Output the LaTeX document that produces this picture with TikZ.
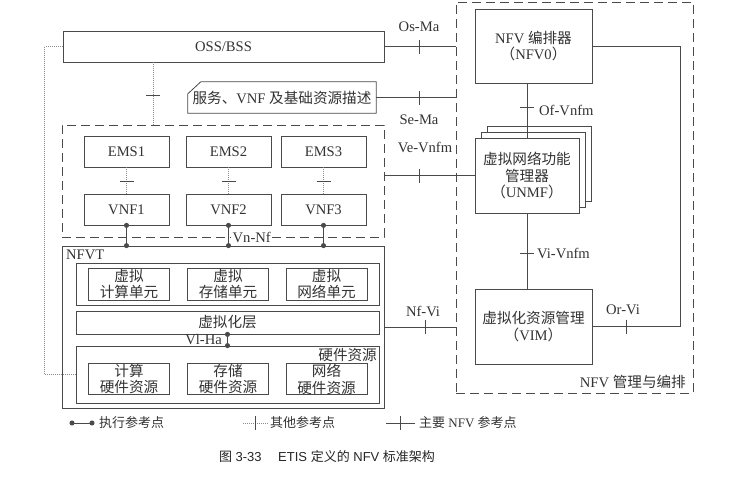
\documentclass[tikz,border=0pt]{standalone}
\usepackage{fontspec}
\setmainfont{Liberation Serif}
\newfontfamily\cjk[Scale=1.0]{Noto Sans CJK SC}
\newfontfamily\capfont{Liberation Sans}
\usetikzlibrary{decorations.markings,arrows.meta}
\newcommand{\zh}[1]{{\cjk #1}}
\definecolor{lc}{HTML}{4A4A4A}
\definecolor{tc}{HTML}{333333}
\definecolor{oc}{HTML}{8A8A8A}
\begin{document}
\begin{tikzpicture}[x=1pt,y=-1pt,
  font=\fontsize{14.6}{16.8}\selectfont, text=tc,
  box/.style={draw=lc,line width=0.8pt,fill=white,inner sep=0pt,align=center},
  sz/.style n args={2}{minimum width=#1pt,minimum height=#2pt},
  dbox/.style={draw=lc,line width=0.8pt,dash pattern=on 9pt off 5pt,inner sep=0pt},
  conn/.style={draw=lc,line width=0.8pt},
  oth/.style={draw=oc,line width=0.7pt,dash pattern=on 1pt off 1pt},
  exe/.style={draw=lc,line width=0.9pt,{Circle[length=5pt]}-{Circle[length=5pt]},shorten <=-2.5pt,shorten >=-2.5pt},
  lbl/.style={inner sep=1pt},
  tk/.style={postaction={decorate,decoration={markings,mark=at position #1 with {\draw[draw=lc,line width=0.8pt,solid] (0,-7pt) -- (0,7pt);}}}},
  tk/.default=0.5]
\fill[white] (0,0) rectangle (730,477);
\useasboundingbox (0,0) rectangle (730,477);

% OSS/BSS and descriptor
\node[box,sz={321}{31}] (oss) at (223.5,46.5) {OSS/BSS};
\node[inner sep=0pt,sz={188}{31}] (desc) at (282,97.5) {\zh{服务、}VNF \zh{及基础资源描述}};
\draw[conn] ([yshift=-12pt]desc.north west) -- ([xshift=13pt]desc.north west) -- (desc.north east) -- (desc.south east) -- (desc.south west) -- cycle;

% VNF domain
\node[dbox,sz={322}{112}] (vnfbox) at (223,181) {};
\foreach \i/\x in {1/126.5,2/228.5,3/323.5}{
  \node[box,sz={85}{31}] (ems\i) at (\x,151.5) {EMS\i};
  \node[box,sz={85}{31}] (vnf\i) at (\x,209.5) {VNF\i};
  \draw[oth,tk=0.55] (ems\i) -- (vnf\i);
}

% NFVI
\node[box,sz={322}{162}] (nfvt) at (223,327) {};
\node[lbl,anchor=west] (nfvtl) at (65,255) {NFVT};
\node[box,sz={303}{42}] (vu) at (227.5,284) {};
\node[box,sz={81}{32}] (vc1) at (129,284) {\zh{虚拟}\\\zh{计算单元}};
\node[box,sz={81}{32}] (vc2) at (228,284) {\zh{虚拟}\\\zh{存储单元}};
\node[box,sz={81}{32}] (vc3) at (326.5,284) {\zh{虚拟}\\\zh{网络单元}};
\node[box,sz={303}{23}] (vl) at (227.5,322.5) {\zh{虚拟化层}};
\node[box,sz={303}{57}] (hw) at (227.5,374.5) {};
\node[lbl,anchor=east] (hwl) at (378,355) {\zh{硬件资源}};
\node[box,sz={81}{30}] (hw1) at (129,379) {\zh{计算}\\\zh{硬件资源}};
\node[box,sz={81}{30}] (hw2) at (228,379) {\zh{存储}\\\zh{硬件资源}};
\node[box,sz={81}{30}] (hw3) at (326.5,379) {\zh{网络}\\\zh{硬件资源}};
\node[lbl,anchor=east] (vlha) at (223,340) {Vl-Ha};

% MANO
\node[dbox,sz={237}{391}] (mano) at (574.5,197.5) {};
\node[lbl,anchor=east] (manol) at (687,382) {NFV \zh{管理与编排}};
\node[box,sz={117}{74}] (nfvo) at (533.5,46) {NFV \zh{编排器}\\\zh{（}NFV0\zh{）}};
\node[box,sz={104}{75}] (unmfc) at (539,163.5) {};
\node[box,sz={104}{75}] (unmfb) at (533,169.5) {};
\node[box,sz={104}{75}] (unmf) at (527,175.5) {\zh{虚拟网络功能}\\\zh{管理器}\\\zh{（}UNMF\zh{）}};
\node[box,sz={117}{75}] (vim) at (533.5,326.5) {\zh{虚拟化资源管理}\\\zh{（}VIM\zh{）}};

% reference points
\draw[conn,tk=35pt] (oss.east) -- (oss.east -| mano.west);
\draw[conn,tk=43pt] (desc.east) -- (desc.east -| mano.west);
\draw[conn,tk=35pt] (unmf.west -| vnfbox.east) -- (unmf.west);
\draw[conn,tk=41pt] (nfvt.east) -- (nfvt.east -| mano.west);
\draw[conn,tk=24pt] (unmf.north |- nfvo.south) -- (unmf.north);
\draw[conn,tk=40pt] (unmf.south) -- (unmf.south |- vim.north);
\draw[conn,tk=-34pt] (nfvo.east) -- ++(88,0) |- (vim.east);
\draw[oth,tk=33pt] ([xshift=-70.5pt]oss.south) -- ([xshift=-70.5pt]oss.south |- vnfbox.north);
\draw[oth] (oss.west) -- ++(-18,0) |- (hw.west);
\foreach \i in {1,2,3}{\draw[exe] (vnf\i.south) -- (vnf\i.south |- nfvt.north);}
\draw[exe] (vl.south) -- (hw.north);
\node[fill=white,inner sep=1.5pt,anchor=west] (vnnf) at (231,237) {Vn-Nf};

\node[lbl] (osma) at (419,27) {Os-Ma};
\node[lbl] (sema) at (419,120) {Se-Ma};
\node[lbl] (vevnfm) at (425,147) {Ve-Vnfm};
\node[lbl] (nfvi) at (423,311) {Nf-Vi};
\node[lbl,anchor=west] (ofvnfm) at (538,110) {Of-Vnfm};
\node[lbl,anchor=west] (vivnfm) at (536,253) {Vi-Vnfm};
\node[lbl] (orvi) at (623,310) {Or-Vi};

% legend
\begin{scope}[font=\fontsize{13}{15}\selectfont]
\coordinate (l1a) at (72,423); \coordinate (l1b) at (92,423);
\draw[exe] (l1a) -- (l1b);
\node[lbl,anchor=west] (l1t) at (98,423) {\zh{执行参考点}};
\coordinate (l2a) at (243,423); \coordinate (l2b) at (268,423);
\draw[oth,tk] (l2a) -- (l2b);
\node[lbl,anchor=west] (l2t) at (269,423) {\zh{其他参考点}};
\coordinate (l3a) at (386,423); \coordinate (l3b) at (415,423);
\draw[conn,tk] (l3a) -- (l3b);
\node[lbl,anchor=west] (l3t) at (418,423) {\zh{主要} NFV \zh{参考点}};
\end{scope}

% caption
\node[font=\fontsize{13}{15}\selectfont\capfont,text=black!85] (cap) at (327,457) {\zh{图} 3-33\quad\ ETIS \zh{定义的} NFV \zh{标准架构}};
\end{tikzpicture}
\end{document}
